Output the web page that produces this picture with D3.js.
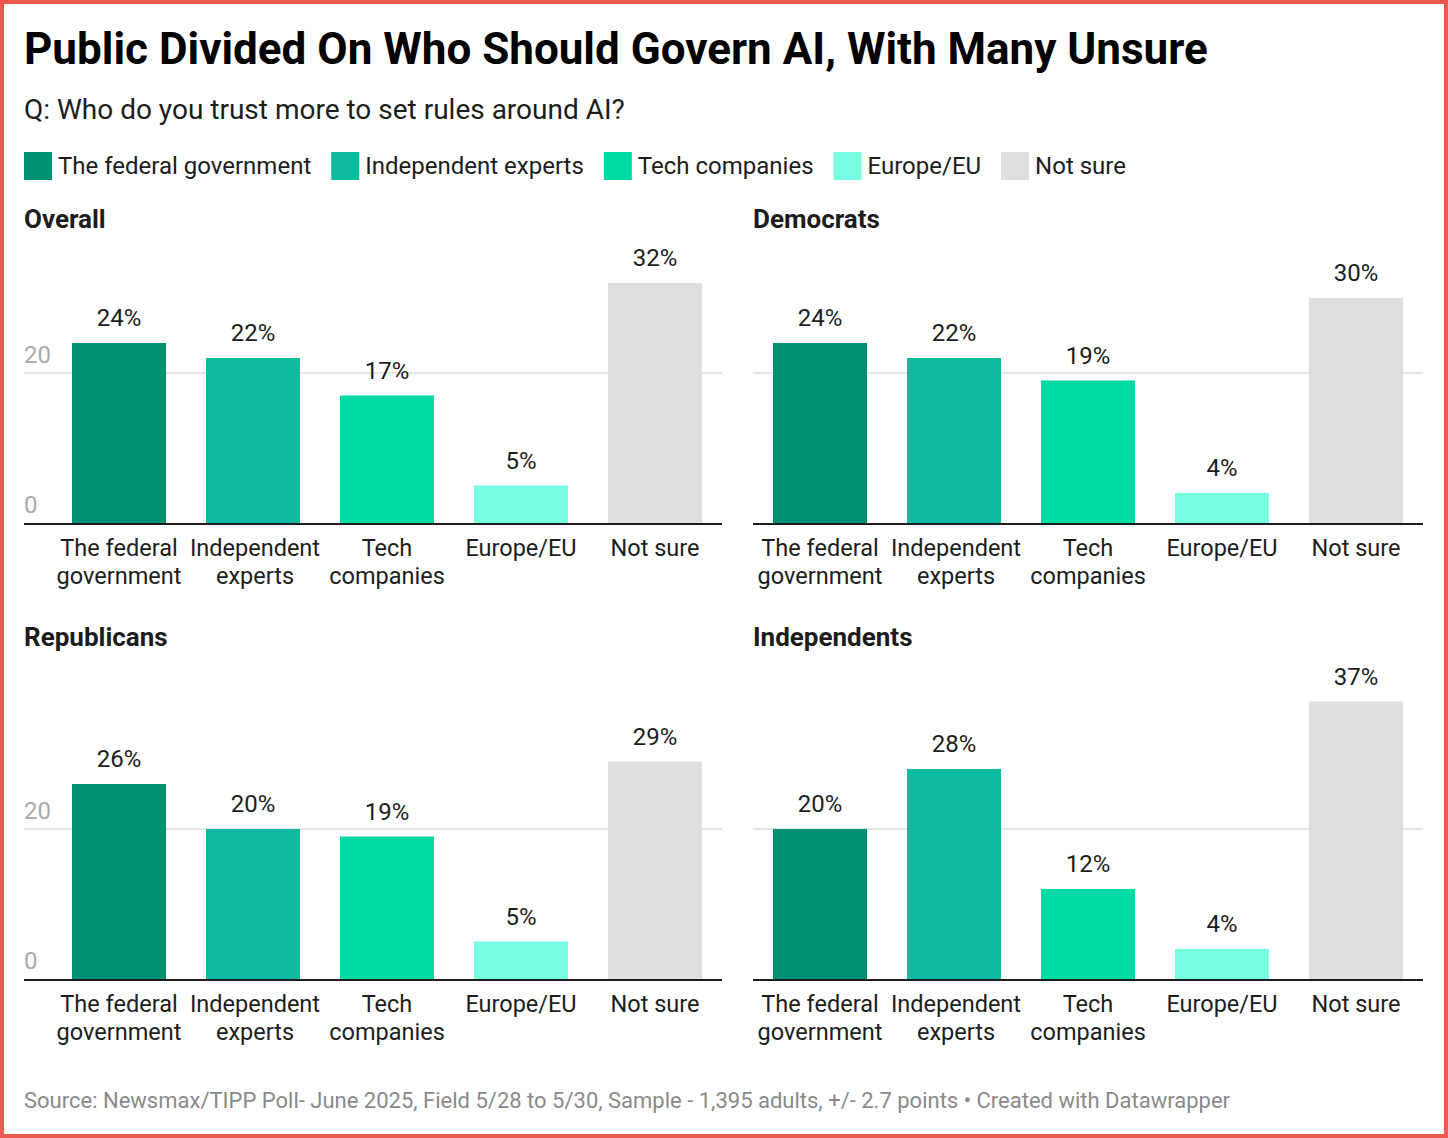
<!DOCTYPE html>
<html>
<head>
<meta charset="utf-8">
<script src="https://cdn.jsdelivr.net/npm/d3@7"></script>
<style>
  body { margin: 0; background: #fff; }
  svg { display: block; font-family: Roboto, "Noto Sans", sans-serif; }
</style>
</head>
<body>
<svg id="chart" width="1448" height="1138"></svg>
<script>
const categories = ['The federal government', 'Independent experts', 'Tech companies', 'Europe/EU', 'Not sure'];
const categoryLines = [['The federal', 'government'], ['Independent', 'experts'], ['Tech', 'companies'], ['Europe/EU'], ['Not sure']];
const colors = ['#009175', '#0bbc9f', '#00dba6', '#77ffe2', '#dfdfdf'];
const panels = ['Overall', 'Democrats', 'Republicans', 'Independents'];
const overall = [24, 22, 17, 5, 32];
const democrats = [24, 22, 19, 4, 30];
const republicans = [26, 20, 19, 5, 29];
const independents = [20, 28, 12, 4, 37];
const yTicks = [0, 20];
const panelValues = [overall, democrats, republicans, independents];

const svg = d3.select('#chart');
const W = 1448, H = 1138;

svg.append('rect')
  .attr('x', 2).attr('y', 2).attr('width', W - 4).attr('height', H - 4)
  .attr('fill', '#fff').attr('stroke', '#ec5a4f').attr('stroke-width', 4);

svg.append('text')
  .attr('x', 24).attr('y', 64)
  .attr('font-size', 44).attr('font-weight', 700).attr('fill', '#000')
  .text('Public Divided On Who Should Govern AI, With Many Unsure');

svg.append('text')
  .attr('x', 24).attr('y', 119)
  .attr('font-size', 28).attr('fill', '#1d1d1d')
  .text('Q: Who do you trust more to set rules around AI?');

// legend
const legend = svg.append('g');
let lx = 24;
categories.forEach((c, i) => {
  legend.append('rect')
    .attr('x', lx).attr('y', 152).attr('width', 28).attr('height', 28)
    .attr('fill', colors[i]);
  const t = legend.append('text')
    .attr('x', lx + 34).attr('y', 174)
    .attr('font-size', 24).attr('fill', '#1d1d1d')
    .text(c);
  lx += 34 + t.node().getComputedTextLength() + 20;
});

// panels
const panelLeft = [52, 753];
const panelTitleX = [24, 753];
const axisY = [523, 979];
const titleY = [228, 646];
const bandW = 670;

panels.forEach((name, p) => {
  const col = p % 2, row = Math.floor(p / 2);
  const values = panelValues[p];
  const g = svg.append('g');
  const x0 = panelLeft[col];
  const base = axisY[row];
  const lineStart = col === 0 ? 24 : 753;

  const x = d3.scaleBand().domain(categories).range([x0, x0 + bandW]).paddingInner(40 / 134).paddingOuter(20 / 134);
  const y = d3.scaleLinear().domain([0, 20]).range([base, base - 150]);

  g.append('text')
    .attr('x', panelTitleX[col]).attr('y', titleY[row])
    .attr('font-size', 26).attr('font-weight', 700).attr('fill', '#1d1d1d')
    .text(name);

  // grid
  g.selectAll('line.grid').data(yTicks.filter(d => d > 0)).join('line')
    .attr('class', 'grid')
    .attr('x1', lineStart).attr('x2', x0 + bandW)
    .attr('y1', d => y(d)).attr('y2', d => y(d))
    .attr('stroke', '#e6e6e6').attr('stroke-width', 2);

  if (col === 0) {
    g.selectAll('text.ytick').data(yTicks).join('text')
      .attr('class', 'ytick')
      .attr('x', 24).attr('y', d => y(d) - 10)
      .attr('font-size', 24).attr('fill', '#aaaaaa')
      .text(d => d);
  }

  g.selectAll('rect.bar').data(values).join('rect')
    .attr('class', 'bar')
    .attr('x', (d, i) => x(categories[i]))
    .attr('width', x.bandwidth())
    .attr('y', d => y(d))
    .attr('height', d => base - y(d))
    .attr('fill', (d, i) => colors[i]);

  g.selectAll('text.val').data(values).join('text')
    .attr('class', 'val')
    .attr('x', (d, i) => x(categories[i]) + x.bandwidth() / 2)
    .attr('y', d => y(d) - 17)
    .attr('text-anchor', 'middle')
    .attr('font-size', 24).attr('fill', '#1d1d1d')
    .text(d => d + '%');

  g.append('line')
    .attr('x1', lineStart).attr('x2', x0 + bandW)
    .attr('y1', base + 1).attr('y2', base + 1)
    .attr('stroke', '#1d1d1d').attr('stroke-width', 2);

  categoryLines.forEach((lines, i) => {
    const t = g.append('text')
      .attr('text-anchor', 'middle')
      .attr('font-size', 23.5).attr('fill', '#1d1d1d');
    lines.forEach((ln, k) => {
      t.append('tspan')
        .attr('x', x(categories[i]) + x.bandwidth() / 2 + (i === 1 ? 2 : 0))
        .attr('y', base + 33 + k * 28)
        .text(ln);
    });
  });
});

svg.append('text')
  .attr('x', 24).attr('y', 1108)
  .attr('font-size', 22).attr('fill', '#8a8a8a')
  .text('Source: Newsmax/TIPP Poll- June 2025, Field 5/28 to 5/30, Sample - 1,395 adults, +/- 2.7 points • Created with Datawrapper');
</script>
</body>
</html>
